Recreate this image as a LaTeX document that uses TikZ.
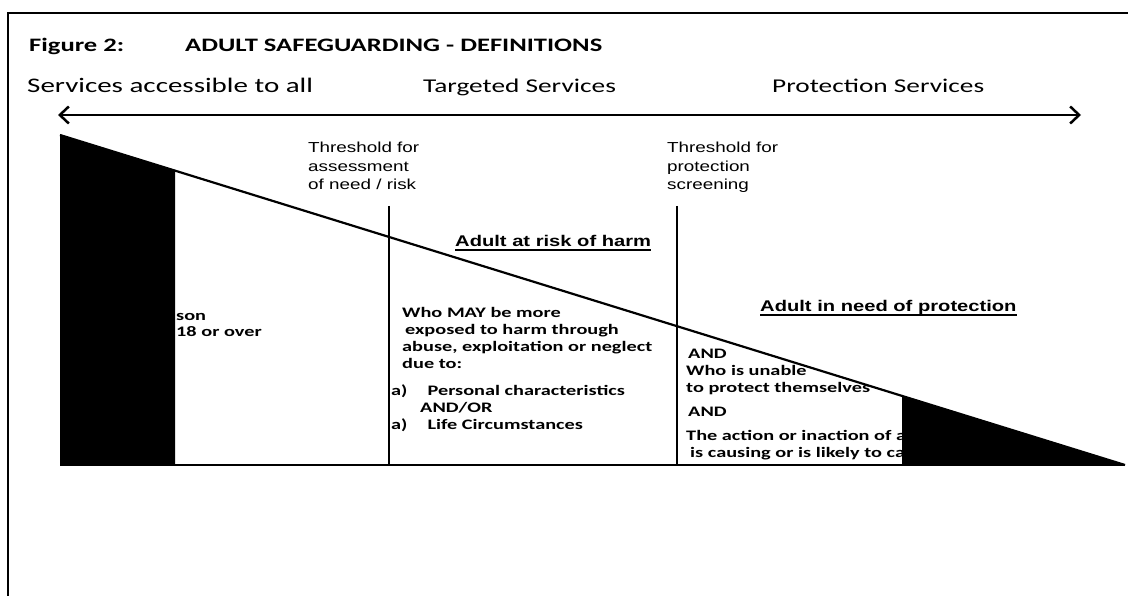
\documentclass[tikz,border=0pt]{standalone}
\usepackage{fontspec}
\usetikzlibrary{arrows.meta}
\newfontfamily\calfont[FakeStretch=1.4]{Carlito}
\newfontfamily\arfont[FakeStretch=1.3]{Liberation Sans}
\begin{document}
\begin{tikzpicture}[x=1pt,y=-1pt]
    \tikzstyle{title}=[anchor=base west,inner sep=0,font=\calfont\bfseries\fontsize{19}{21}\selectfont]
    \tikzstyle{heading}=[anchor=base west,inner sep=0,font=\calfont\fontsize{19.5}{22}\selectfont]
    \tikzstyle{threshold}=[anchor=base west,inner sep=0,align=left,font=\arfont\fontsize{14.5}{18.5}\selectfont]
    \tikzstyle{defhead}=[anchor=base west,inner sep=0,font=\arfont\bfseries\fontsize{15.5}{18}\selectfont]
    \tikzstyle{body}=[anchor=base west,inner sep=0,align=left,font=\calfont\bfseries\fontsize{14.5}{17}\selectfont]
    \tikzstyle{edge}=[draw, line width=2.2pt]
    \tikzstyle{divider}=[draw, line width=1.4pt]
    \tikzstyle{block}=[fill=black]
    \useasboundingbox (0,0) rectangle (1128,596);
    % frame, cut off by the page
    \draw[line width=2pt] (8,596) -- (8,13) -- (1128,13);
    \node [title] (fig) at (29,52) {Figure 2:};
    \node [title] (title) at (185,52) {ADULT SAFEGUARDING - DEFINITIONS};
    \node [heading, font=\calfont\fontsize{20.7}{22}\selectfont] (all) at (27,93) {Services accessible to all};
    \node [heading] (targeted) at (423,93) {Targeted Services};
    \node [heading] (protection) at (772,93) {Protection Services};
    \coordinate (left) at (58,115);
    \coordinate (right) at (1081,115);
    \path[edge, line width=2.5pt, {Straight Barb[length=9pt,width=17pt]}-{Straight Barb[length=9pt,width=17pt]}] (left) -- (right);
    % the wedge
    \coordinate (apex) at (60,135);
    \coordinate (tip) at (1125,465);
    \coordinate (base) at (60,465);
    \coordinate (lcut) at (175,170.6);
    \coordinate (rcut) at (902,395.9);
    \coordinate (t1top) at (389,206);
    \coordinate (t2top) at (677,206);
    % multi-line nodes sit on their last line
    \node [threshold] (assess) at (308,190) {Threshold for\\assessment\\of need / risk};
    \node [threshold] (screen) at (667,190) {Threshold for\\protection\\screening};
    \node [defhead] (riskhead) at (455,247) {Adult at risk of harm};
    \node [defhead] (needhead) at (760,312) {Adult in need of protection};
    \path[draw, line width=1.2pt] ([yshift=-3pt]riskhead.base west) -- ([yshift=-3pt]riskhead.base east);
    \path[draw, line width=1.2pt] ([yshift=-3pt]needhead.base west) -- ([yshift=-3pt]needhead.base east);
    \node [body] (person) at (176,337) {son\\18 or over};
    \node [body] (who) at (402,368) {Who MAY be more\\\hspace*{3pt}exposed to harm through\\abuse, exploitation or neglect\\due to:};
    \node [body] (reasons) at (391,429) {a)\hspace*{20pt}Personal characteristics\\\hspace*{29pt}AND/OR\\a)\hspace*{20pt}Life Circumstances};
    \node [body] (unable) at (686,457) {\hspace*{2pt}AND\\Who is unable\\to protect themselves\\[7pt]\hspace*{2pt}AND\\[7pt]The action or inaction of a\\\hspace*{4pt}is causing or is likely to ca};
    \fill[block] (apex) -- (lcut) -- (lcut |- base) -- (base) -- cycle;
    \fill[block] (rcut) -- (tip) -- (rcut |- tip) -- cycle;
    \path[edge] (apex) -- (tip);
    \path[edge, line width=2pt] (base) -- (tip);
    \path[divider] (t1top) -- (t1top |- base);
    \path[divider] (t2top) -- (t2top |- base);
\end{tikzpicture}
\end{document}
